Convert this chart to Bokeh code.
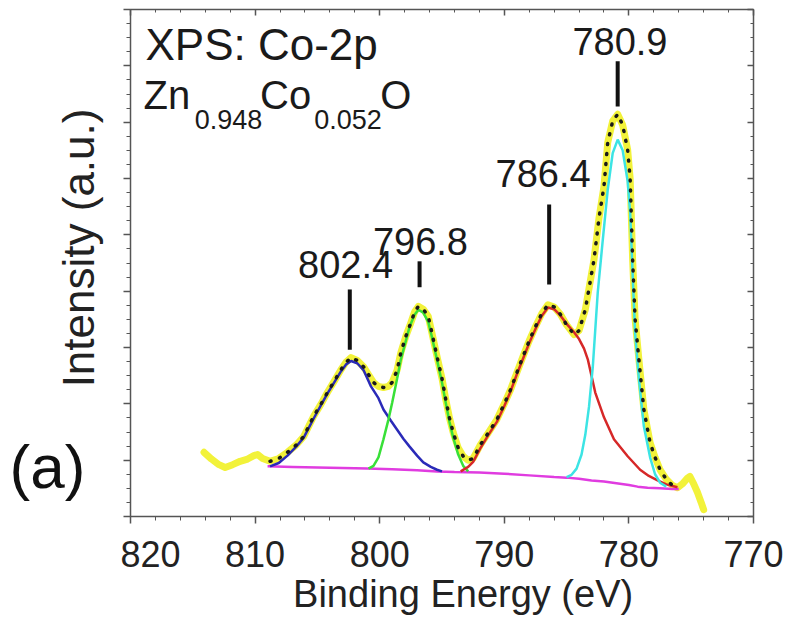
import math
from bokeh.plotting import figure
from bokeh.models import Range1d, SingleIntervalTicker, LinearAxis, Label
from bokeh.layouts import row
from bokeh.core.properties import value
from bokeh.embed import file_html
from bokeh.resources import INLINE

# ---------------- data ----------------
energy = [814.1, 813.5, 812.9, 812.4, 811.8, 811.2, 810.6, 810.1, 809.8, 809.4,
          808.8, 808.1, 807.4, 806.7, 806.1, 805.3, 804.7, 804.2, 803.6, 803.1,
          802.7, 802.3, 801.8, 801.3, 800.9, 800.5, 800.1, 799.7, 799.3, 799.0,
          798.6, 798.3, 797.9, 797.5, 797.2, 796.9, 796.5, 796.1, 795.8, 795.4,
          795.0, 794.7, 794.4, 794.1, 793.7, 793.3, 792.9, 792.5, 791.9, 791.3,
          790.6, 790.0, 789.5, 789.0, 788.5, 788.0, 787.5, 787.0, 786.5, 786.0,
          785.5, 785.0, 784.4, 784.0, 783.5, 783.2, 782.8, 782.4, 782.0, 781.7,
          781.3, 780.9, 780.5, 780.1, 779.9, 779.7, 779.5, 779.2, 778.8, 778.3,
          777.9, 777.5, 777.0, 776.5, 776.1, 775.7, 775.3, 775.1, 774.8, 774.5,
          774.2, 774.0]
intensity = [1.14, 1.02, 0.92, 0.87, 0.92, 0.98, 1.02, 1.08, 1.10, 1.03,
             0.98, 1.03, 1.14, 1.27, 1.42, 1.78, 2.00, 2.20, 2.42, 2.61,
             2.74, 2.82, 2.77, 2.66, 2.52, 2.38, 2.31, 2.29, 2.31, 2.38,
             2.60, 2.91, 3.20, 3.44, 3.63, 3.73, 3.68, 3.55, 3.25, 2.84,
             2.45, 2.08, 1.75, 1.49, 1.22, 1.07, 1.00, 1.03, 1.28, 1.48,
             1.72, 2.00, 2.25, 2.55, 2.84, 3.12, 3.37, 3.60, 3.76, 3.72,
             3.59, 3.40, 3.23, 3.30, 3.67, 4.05, 4.56, 5.30, 5.86, 6.64,
             7.02, 7.14, 6.95, 6.51, 6.00, 4.56, 3.50, 2.79, 1.90, 1.31,
             1.05, 0.83, 0.66, 0.55, 0.51, 0.58, 0.68, 0.71, 0.58, 0.43,
             0.25, 0.12]

fit_start, fit_end = 808.8, 776.0

bg_e = [809.0, 807.0, 805.0, 803.0, 801.0, 799.0, 797.0, 795.4, 794.0, 792.0,
        790.0, 788.0, 786.0, 785.0, 784.0, 783.0, 782.0, 781.0, 780.0, 779.3,
        778.5, 777.5, 776.5, 776.0]
bg_i = [0.89, 0.88, 0.87, 0.86, 0.85, 0.84, 0.82, 0.80, 0.79, 0.78,
        0.76, 0.73, 0.70, 0.69, 0.67, 0.64, 0.62, 0.59, 0.56, 0.53,
        0.51, 0.50, 0.49, 0.49]

blue_e = [808.8, 808.1, 807.4, 806.7, 806.1, 805.3, 804.7, 804.2, 803.6, 803.1,
          802.7, 802.3, 801.8, 801.3, 800.7, 800.1, 799.7, 799.1, 798.6, 798.1,
          797.6, 797.0, 796.5, 795.9, 795.4, 795.0]
blue_i = [0.89, 0.95, 1.08, 1.24, 1.40, 1.74, 1.98, 2.18, 2.40, 2.58,
          2.70, 2.76, 2.72, 2.60, 2.31, 2.10, 1.90, 1.70, 1.54, 1.38,
          1.24, 1.08, 0.96, 0.88, 0.83, 0.80]

green_e = [800.9, 800.5, 800.1, 799.7, 799.3, 799.0, 798.6, 798.3, 797.9, 797.6,
           797.2, 796.9, 796.5, 796.1, 795.8, 795.4, 795.0, 794.7, 794.4, 794.1,
           793.7, 793.3, 792.9]
green_i = [0.85, 0.90, 1.05, 1.37, 1.72, 2.02, 2.45, 2.79, 3.12, 3.37,
           3.58, 3.67, 3.62, 3.45, 3.18, 2.78, 2.38, 2.02, 1.68, 1.40,
           1.10, 0.90, 0.80]

red_e = [793.5, 792.9, 792.5, 791.9, 791.3, 790.6, 790.0, 789.5, 789.0, 788.5,
         788.0, 787.5, 787.0, 786.5, 786.0, 785.5, 785.0, 784.4, 784.0, 783.6,
         783.3, 782.7, 782.0, 781.2, 780.1, 779.1, 778.4, 777.7, 777.0, 776.1]
red_i = [0.80, 0.88, 0.97, 1.22, 1.44, 1.68, 1.96, 2.22, 2.52, 2.80,
         3.08, 3.33, 3.56, 3.71, 3.68, 3.57, 3.42, 3.27, 3.15, 2.98,
         2.79, 2.20, 1.76, 1.37, 1.07, 0.83, 0.72, 0.64, 0.57, 0.52]

cyan_e = [785.0, 784.6, 784.2, 783.8, 783.5, 783.2, 782.9, 782.5, 782.1, 781.7,
          781.3, 780.9, 780.5, 780.1, 779.9, 779.7, 779.5, 779.2, 778.8, 778.3,
          777.9, 777.5, 777.0]
cyan_i = [0.70, 0.74, 0.85, 1.10, 1.45, 1.95, 2.65, 3.98, 4.90, 5.80,
          6.45, 6.69, 6.50, 5.95, 5.40, 4.30, 3.25, 2.45, 1.60, 1.05,
          0.75, 0.60, 0.53]

peak_pos = [802.4, 796.8, 786.4, 780.9]
peak_labels = ["802.4", "796.8", "786.4", "780.9"]

x_ticks_major = 10
y_ticks_major = 1

# ---------------- layout (positions of annotations) ----------------
leader_bottom = [2.96, 4.07, 4.12, 7.28]
leader_top = [4.03, 4.53, 5.54, 8.08]
label_y = [4.48, 4.89, 6.09, 8.44]
label_x_shift = [0.34, -0.07, 0.49, -0.18]

FONT = "Liberation Sans"
AXIS_COL = "#555555"
TXT = "#1a1a1a"
SIDE_W = 120
FRAME_TOP, FRAME_BOTTOM = 10, 517

# ---------------- side panel with the y label and panel letter ----------------
# its frame is aligned with the main frame, so page pixels are used as coordinates
side = figure(width=SIDE_W, height=618, x_range=Range1d(0, SIDE_W),
              y_range=Range1d(FRAME_BOTTOM, FRAME_TOP),
              x_axis_type=None, y_axis_type=None, min_border=0,
              output_backend="svg", toolbar_location=None)
side.outline_line_color = None
side.xgrid.visible = False
side.ygrid.visible = False
side.text(x=[78], y=[248], text=["Intensity (a.u.)"], angle=math.pi / 2,
          text_font=value(FONT), text_font_size="44px", text_color="#222222",
          text_align="center", text_baseline="middle")
side.text(x=[9], y=[466], text=["(a)"], text_font=value(FONT), text_font_size="62px",
          text_color="#111111", text_align="left", text_baseline="middle")

# ---------------- main plot ----------------
p = figure(x_range=Range1d(820, 770), y_range=Range1d(0, 9),
           frame_width=623, frame_height=507,
           min_border_left=130 - SIDE_W, min_border_top=9, min_border_right=30,
           min_border_bottom=0,
           output_backend="svg", toolbar_location=None)
p.xgrid.visible = False
p.ygrid.visible = False
p.outline_line_color = None

xt = SingleIntervalTicker(interval=x_ticks_major, num_minor_ticks=5)
yt = SingleIntervalTicker(interval=y_ticks_major, num_minor_ticks=4)


def hide_labels(ax):
    ax.major_label_text_font_size = "0px"
    ax.major_label_text_color = None
    ax.major_label_text_alpha = 0
    ax.major_label_standoff = 0


def style_axis(ax, inward):
    ax.axis_line_color = AXIS_COL
    ax.axis_line_width = 1.5
    ax.major_tick_line_color = AXIS_COL
    ax.minor_tick_line_color = AXIS_COL
    ax.major_tick_line_width = 1.5
    if inward:
        ax.major_tick_in, ax.major_tick_out = 6, 0
        ax.minor_tick_in, ax.minor_tick_out = 3, 0
    else:
        ax.major_tick_in, ax.major_tick_out = 0, 7
        ax.minor_tick_in, ax.minor_tick_out = 0, 4


bx = p.xaxis[0]
bx.ticker = xt
# the reference label sits a little right of centre; leading no-break spaces shift it
bx.axis_label = "\u00a0\u00a0\u00a0\u00a0Binding Energy (eV)"
bx.axis_label_text_font = FONT
bx.axis_label_text_font_size = "38px"
bx.axis_label_text_font_style = "normal"
bx.axis_label_text_color = "#222222"
bx.axis_label_standoff = 3
bx.major_label_text_font = FONT
bx.major_label_text_font_size = "36px"
bx.major_label_text_color = "#222222"
bx.major_label_standoff = 17
style_axis(bx, False)

ly = p.yaxis[0]
ly.ticker = yt
hide_labels(ly)
style_axis(ly, False)

top = LinearAxis(ticker=xt)
hide_labels(top)
style_axis(top, True)
p.add_layout(top, "above")

right = LinearAxis(ticker=yt)
hide_labels(right)
style_axis(right, True)
p.add_layout(right, "right")

# ---------------- glyphs ----------------
p.line(energy, intensity, line_color="#f2f23a", line_width=7, line_join="round", line_cap="round")

p.line(bg_e, bg_i, line_color="#e03ce0", line_width=2.5)
p.line(blue_e, blue_i, line_color="#2a2ab8", line_width=2.5)
p.line(green_e, green_i, line_color="#38e038", line_width=2.5)
p.line(red_e, red_i, line_color="#d62828", line_width=2.5)
p.line(cyan_e, cyan_i, line_color="#3ce4e4", line_width=2.5)

fit_e = [e for e in energy if fit_end <= e <= fit_start]
fit_i = [i for e, i in zip(energy, intensity) if fit_end <= e <= fit_start]
p.line(fit_e, fit_i, line_color="#1a1a1a", line_width=3.5, line_dash="1 9", line_cap="round")

# peak markers
p.segment(x0=peak_pos, y0=leader_bottom, x1=peak_pos, y1=leader_top,
          line_color="#111111", line_width=4)
for pos, lab, ly_, dx in zip(peak_pos, peak_labels, label_y, label_x_shift):
    p.add_layout(Label(x=pos + dx, y=ly_, text=lab, text_align="center",
                       text_baseline="middle", text_font=FONT,
                       text_font_size="38px", text_color=TXT))

# title texts
p.add_layout(Label(x=818.8, y=8.38, text="XPS: Co-2p", text_font=FONT,
                   text_font_size="44px", text_color=TXT, text_baseline="middle"))
parts = [("Zn", 818.95, 7.49, "40px"), ("0.948", 814.85, 7.05, "27px"),
         ("Co", 809.6, 7.49, "40px"), ("0.052", 805.25, 7.05, "27px"),
         ("O", 799.95, 7.49, "40px")]
for txt, x, y, fs in parts:
    p.add_layout(Label(x=x, y=y, text=txt, text_font=FONT, text_font_size=fs,
                       text_color=TXT, text_baseline="middle"))

layout = row(side, p)
open("out.html", "w").write(file_html(layout, INLINE))
